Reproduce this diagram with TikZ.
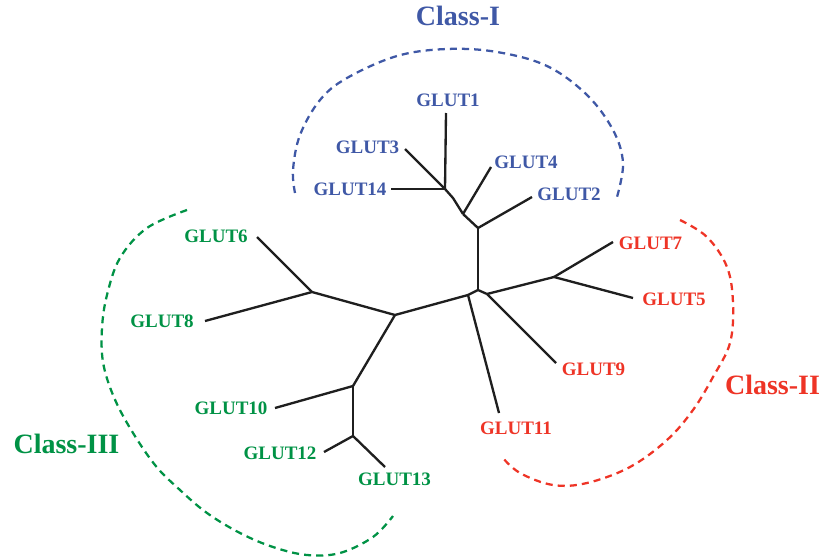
\documentclass[tikz,border=0pt]{standalone}
\usepackage{fontspec}
\setmainfont{Liberation Serif}
\definecolor{cIblue}{RGB}{63,88,166}
\definecolor{cIIred}{RGB}{238,52,38}
\definecolor{cIIIgreen}{RGB}{0,146,69}
\tikzset{
  branch/.style={draw=black!88, line width=1.75pt, line join=round},
  glabel/.style={inner sep=0pt, anchor=center, font=\fontsize{14.25}{16}\selectfont\bfseries},
  clabel/.style={inner sep=0pt, anchor=center, font=\fontsize{21}{24}\selectfont\bfseries},
  hull/.style={line width=1.7pt, dash pattern=on 5.3pt off 3.8pt}
}
\begin{document}
\begin{tikzpicture}[x=0.75pt,y=-0.75pt]
\useasboundingbox (0,0) rectangle (824,560);
% tree coordinates
\coordinate (A) at (445,189);
\coordinate (A1) at (453,198);
\coordinate (B) at (463,214);
\coordinate (C) at (478,228);
\coordinate (D) at (478,290);
\coordinate (G) at (468,295);
\coordinate (H) at (487,294);
\coordinate (J) at (554,277);
\coordinate (F) at (395,315);
\coordinate (K) at (312,292);
\coordinate (L) at (353,386);
\coordinate (M) at (353,436);
% leaf ends
\coordinate (e1) at (446,113);
\coordinate (e3) at (405,149);
\coordinate (e14) at (391,189);
\coordinate (e4) at (491,167);
\coordinate (e2) at (532,197);
\coordinate (e7) at (613,242);
\coordinate (e5) at (633,298);
\coordinate (e9) at (556,363);
\coordinate (e11) at (499,413);
\coordinate (e6) at (257,237);
\coordinate (e8) at (205,321);
\coordinate (e10) at (275,408);
\coordinate (e12) at (324,452);
\coordinate (e13) at (385,467);
% branches
\draw[branch] (e1) -- (A);
\draw[branch] (e3) -- (A);
\draw[branch] (e14) -- (A);
\draw[branch] (A) -- (A1) -- (B);
\draw[branch] (e4) -- (B);
\draw[branch] (B) -- (C);
\draw[branch] (e2) -- (C);
\draw[branch] (C) -- (D);
\draw[branch] (D) -- (G);
\draw[branch] (D) -- (H);
\draw[branch] (H) -- (J);
\draw[branch] (J) -- (e7);
\draw[branch] (J) -- (e5);
\draw[branch] (H) -- (e9);
\draw[branch] (G) -- (e11);
\draw[branch] (G) -- (F);
\draw[branch] (F) -- (K);
\draw[branch] (K) -- (e6);
\draw[branch] (K) -- (e8);
\draw[branch] (F) -- (L);
\draw[branch] (L) -- (e10);
\draw[branch] (L) -- (M);
\draw[branch] (M) -- (e12);
\draw[branch] (M) -- (e13);
% labels
\node[glabel, text=cIblue] (g1) at (448,100) {GLUT1};
\node[glabel, text=cIblue] (g3) at (367.5,147) {GLUT3};
\node[glabel, text=cIblue] (g14) at (350,189) {GLUT14};
\node[glabel, text=cIblue] (g4) at (526,162) {GLUT4};
\node[glabel, text=cIblue] (g2) at (569,194) {GLUT2};
\node[glabel, text=cIIred] (g7) at (650.5,243) {GLUT7};
\node[glabel, text=cIIred] (g5) at (674,299) {GLUT5};
\node[glabel, text=cIIred] (g9) at (593.5,369) {GLUT9};
\node[glabel, text=cIIred] (g11) at (516,428) {GLUT11};
\node[glabel, text=cIIIgreen] (g6) at (216,236) {GLUT6};
\node[glabel, text=cIIIgreen] (g8) at (162,321) {GLUT8};
\node[glabel, text=cIIIgreen] (g10) at (231,408) {GLUT10};
\node[glabel, text=cIIIgreen] (g12) at (280,453) {GLUT12};
\node[glabel, text=cIIIgreen] (g13) at (394.5,479) {GLUT13};
% class labels
\node[clabel, text=cIblue] (cI) at (458,16) {Class-I};
\node[clabel, text=cIIred] (cII) at (772.5,385) {Class-II};
\node[clabel, text=cIIIgreen] (cIII) at (66.5,443.5) {Class-III};
% hulls
\draw[hull, cIblue] plot[smooth, tension=0.6] coordinates {(295,193) (293,170) (300,135) (320,100) (347,78) (397,56) (447,49) (497,52) (547,66) (587,95) (613,130) (623,163) (617,197)};
\draw[hull, cIIred] plot[smooth, tension=0.6] coordinates {(680,220) (707,237) (727,267) (733,303) (730,343) (713,377) (693,410) (667,440) (630,467) (587,483) (553,485) (520,473) (502,457)};
\draw[hull, cIIIgreen] plot[smooth, tension=0.6] coordinates {(187,210) (147,228) (120,258) (107,295) (102,328) (103,362) (113,395) (130,428) (155,465) (180,490) (207,513) (240,533) (273,547) (307,555) (340,553) (373,537) (393,516)};
\end{tikzpicture}
\end{document}
